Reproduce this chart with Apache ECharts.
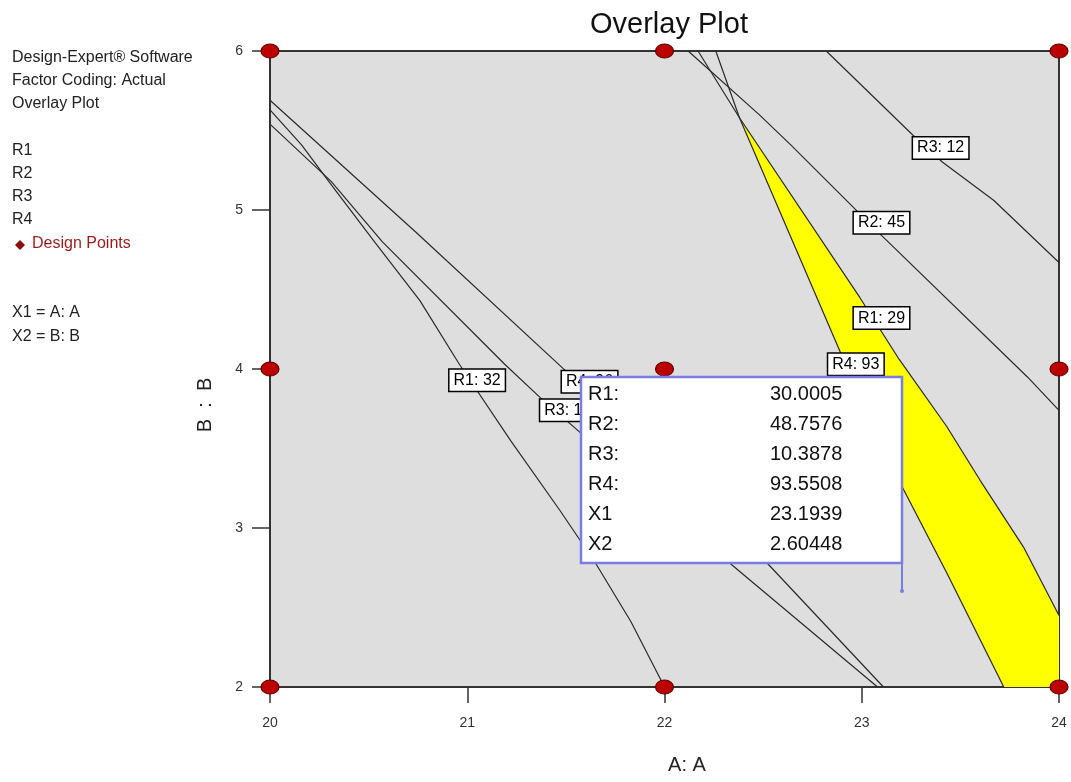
<!DOCTYPE html>
<html>
<head>
<meta charset="utf-8">
<script src="https://cdn.jsdelivr.net/npm/echarts@6/dist/echarts.min.js"></script>
<style>
html, body { margin: 0; padding: 0; background: #ffffff; }
#main { width: 1071px; height: 782px; }
</style>
</head>
<body>
<div id="main"></div>
<script>
// axis ranges and ticks
const xRange = [20, 24];
const yRange = [2, 6];
const tickStep = 1;

// design points (factor A, factor B)
const designPoints = [
    [20, 6], [22, 6], [24, 6],
    [20, 4], [22, 4], [24, 4],
    [20, 2], [22, 2], [24, 2]
];

// contour lines
const r1Left = [[20.0, 5.63], [20.16, 5.41], [20.31, 5.16], [20.53, 4.80], [20.76, 4.43], [20.96, 4.03],
    [21.22, 3.55], [21.47, 3.11], [21.65, 2.78], [21.83, 2.41], [22.0, 2.0]];
const r3Left = [[20.0, 5.54], [20.31, 5.18], [20.57, 4.80], [21.19, 4.03], [21.37, 3.82], [22.33, 2.78], [23.08, 2.0]];
const r4Left = [[20.0, 5.69], [20.74, 4.86], [21.48, 4.01], [22.52, 2.78], [23.11, 2.0]];
const r2Line = [[22.12, 6.0], [22.48, 5.60], [22.64, 5.41], [23.10, 4.84], [23.84, 3.95], [24.0, 3.74]];
const r3Right = [[22.82, 6.0], [23.26, 5.47], [23.41, 5.30], [23.67, 5.06], [24.0, 4.67]];
const r1Right = [[22.17, 6.0], [22.38, 5.58], [22.99, 4.45], [23.19, 4.06], [23.43, 3.64], [23.60, 3.30],
    [23.82, 2.88], [24.0, 2.45]];
const r4Right = [[22.26, 6.0], [22.38, 5.58], [22.89, 4.11], [23.20, 3.27], [23.43, 2.72], [23.72, 2.0]];

// contour labels
const labelNames = ['R1: 32', 'R4: 96', 'R3: 14', 'R4: 93', 'R1: 29', 'R2: 45', 'R3: 12'];
const labelPos = [[21.05, 3.93], [21.62, 3.92], [21.51, 3.74], [22.97, 4.03], [23.10, 4.32], [23.10, 4.92], [23.40, 5.39]];

// flag readout
const tipNames = ['R1:', 'R2:', 'R3:', 'R4:', 'X1', 'X2'];
const tipValues = ['30.0005', '48.7576', '10.3878', '93.5508', '23.1939', '2.60448'];
const tipPoint = [23.1939, 2.60448];

const FONT = '"Liberation Sans", Arial, sans-serif';

// sweet spot: between R1: 29 and R4: 93, closed by the bottom right corner
const sweetSpot = r1Right.slice(1).concat([[xRange[1], yRange[0]]]).concat(r4Right.slice(1).reverse());

const sideText = [
    ['Design-Expert® Software', 58, '#222'],
    ['Factor Coding: Actual', 81, '#222'],
    ['Overlay Plot', 104, '#222'],
    ['R1', 151, '#222'],
    ['R2', 174, '#222'],
    ['R3', 197, '#222'],
    ['R4', 220, '#222'],
    ['Design Points', 244, '#9b1b1b'],
    ['X1 = A: A', 313, '#222'],
    ['X2 = B: B', 337, '#222']
];

function contour(data) {
    return {
        type: 'line',
        data: data,
        showSymbol: false,
        silent: true,
        z: 3,
        lineStyle: { color: '#2a2a2a', width: 1.2 }
    };
}

let myChart = echarts.init(document.getElementById('main'));
let option = {
    backgroundColor: '#ffffff',
    animation: false,
    title: {
        text: 'Overlay Plot',
        left: 585,
        top: 5,
        textStyle: { fontFamily: FONT, fontSize: 29, fontWeight: 'normal', color: '#111' }
    },
    grid: {
        left: 270,
        right: 12,
        top: 51,
        bottom: 95,
        show: true,
        backgroundColor: '#dedede',
        borderColor: '#333',
        borderWidth: 2
    },
    xAxis: {
        type: 'value',
        min: xRange[0],
        max: xRange[1],
        interval: tickStep,
        splitLine: { show: false },
        axisLine: { show: true, lineStyle: { color: '#333', width: 2 } },
        axisTick: { show: true, inside: false, length: 16, lineStyle: { color: '#333', width: 1.5 } },
        axisLabel: { margin: 29, fontFamily: FONT, fontSize: 14, color: '#333' }
    },
    yAxis: {
        type: 'value',
        min: yRange[0],
        max: yRange[1],
        interval: tickStep,
        splitLine: { show: false },
        axisLine: { show: true, lineStyle: { color: '#333', width: 2 } },
        axisTick: { show: true, inside: false, length: 18, lineStyle: { color: '#333', width: 1.5 } },
        axisLabel: { margin: 27, fontFamily: FONT, fontSize: 14, color: '#333' }
    },
    graphic: sideText.map(function (t) {
        return {
            type: 'text',
            x: t[2] === '#222' ? 12 : 32,
            y: t[1],
            style: { text: t[0], font: '16px ' + FONT, fill: t[2], verticalAlign: 'middle' }
        };
    }).concat([
        {
            type: 'polygon',
            shape: { points: [[20, 240], [25, 245], [20, 250], [15, 245]] },
            style: { fill: '#8b0d0d' }
        },
        {
            type: 'text',
            x: 687,
            y: 765,
            style: { text: 'A: A', font: '20px ' + FONT, fill: '#222', align: 'center', verticalAlign: 'middle' }
        },
        {
            type: 'text',
            x: 205,
            y: 405,
            rotation: Math.PI / 2,
            style: { text: 'B  :  B', font: '20px ' + FONT, fill: '#222', align: 'center', verticalAlign: 'middle' }
        }
    ]),
    series: [
        {
            type: 'custom',
            silent: true,
            z: 2,
            data: [tipPoint],
            renderItem: function (params, api) {
                return {
                    type: 'polygon',
                    shape: { points: sweetSpot.map(function (p) { return api.coord(p); }) },
                    style: { fill: '#ffff00' }
                };
            }
        },
        contour(r1Left),
        contour(r3Left),
        contour(r4Left),
        contour(r2Line),
        contour(r3Right),
        contour(r1Right),
        contour(r4Right),
        {
            type: 'scatter',
            z: 5,
            clip: false,
            silent: true,
            symbol: 'circle',
            symbolSize: [18, 14],
            itemStyle: { color: '#bb0000', borderColor: '#5a0000', borderWidth: 1, opacity: 1 },
            data: designPoints
        },
        {
            type: 'scatter',
            z: 6,
            silent: true,
            symbolSize: 2,
            itemStyle: { color: 'rgba(0,0,0,0)', opacity: 1 },
            label: {
                show: true,
                position: 'inside',
                formatter: '{b}',
                fontFamily: FONT,
                fontSize: 16,
                color: '#000',
                backgroundColor: '#ffffff',
                borderColor: '#000',
                borderWidth: 1.5,
                padding: [3, 4, 2, 4]
            },
            data: labelNames.map(function (n, i) { return { name: n, value: labelPos[i] }; })
        },
        {
            type: 'custom',
            z: 20,
            silent: true,
            clip: false,
            data: [tipPoint],
            renderItem: function (params, api) {
                const p = api.coord([api.value(0), api.value(1)]);
                const right = p[0] + 2;
                const bottom = p[1] - 28;
                const w = 321;
                const h = 186;
                const left = right - w;
                const top = bottom - h;
                const kids = [
                    {
                        type: 'line',
                        shape: { x1: right, y1: bottom, x2: right, y2: p[1] },
                        style: { stroke: '#7b7be6', lineWidth: 2 }
                    },
                    {
                        type: 'circle',
                        shape: { cx: right, cy: p[1], r: 2 },
                        style: { fill: '#7b7be6' }
                    },
                    {
                        type: 'rect',
                        shape: { x: left, y: top, width: w, height: h },
                        style: { fill: '#ffffff', stroke: '#7b7be6', lineWidth: 2.5 }
                    }
                ];
                tipNames.forEach(function (n, i) {
                    const y = top + 18 + i * 30;
                    kids.push({
                        type: 'text',
                        style: { text: n, x: left + 7, y: y, font: '20px ' + FONT, fill: '#111', verticalAlign: 'middle' }
                    });
                    kids.push({
                        type: 'text',
                        style: { text: tipValues[i], x: left + 189, y: y, font: '20px ' + FONT, fill: '#111', verticalAlign: 'middle' }
                    });
                });
                return { type: 'group', children: kids };
            }
        }
    ]
};
myChart.setOption(option);
</script>
</body>
</html>
